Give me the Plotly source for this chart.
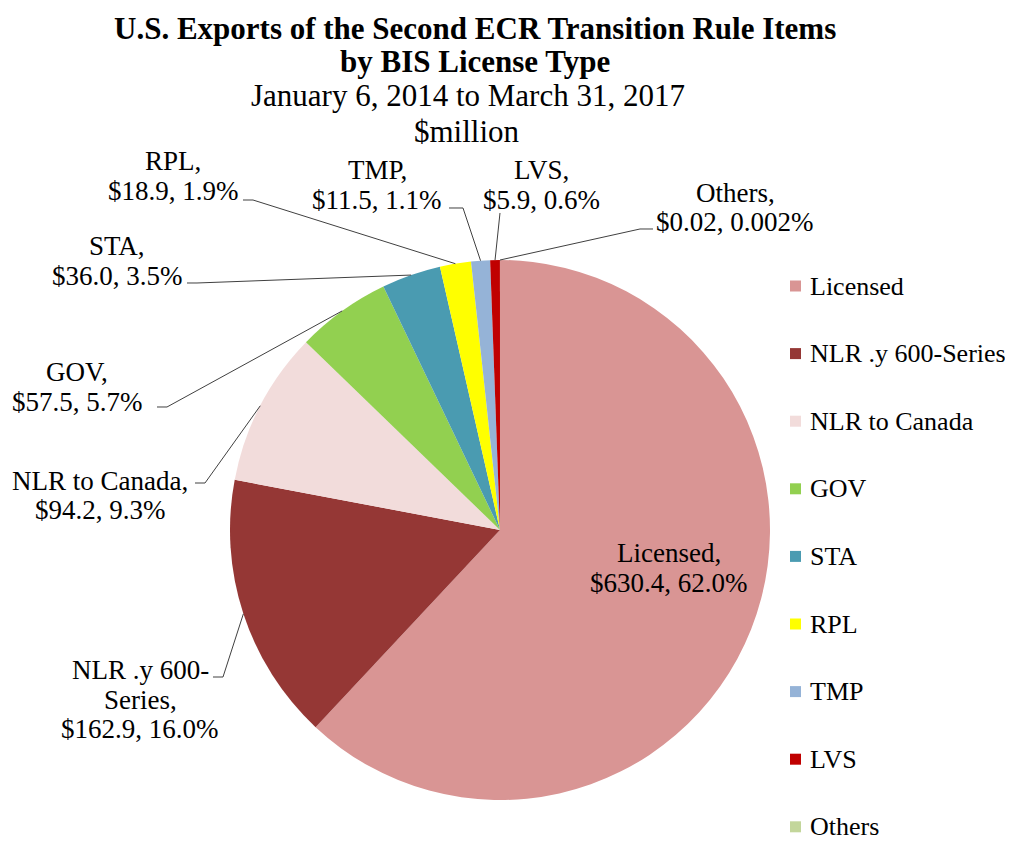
import math
import plotly.graph_objects as go

# ---------------- data ----------------
categories = ["Licensed", "NLR .y 600-Series", "NLR to Canada", "GOV", "STA",
              "RPL", "TMP", "LVS", "Others"]
values = [630.4, 162.9, 94.2, 57.5, 36.0, 18.9, 11.5, 5.9, 0.02]
value_text = ["$630.4", "$162.9", "$94.2", "$57.5", "$36.0", "$18.9", "$11.5", "$5.9", "$0.02"]
pct_text = ["62.0%", "16.0%", "9.3%", "5.7%", "3.5%", "1.9%", "1.1%", "0.6%", "0.002%"]
colors = ["#D99594", "#953735", "#F2DCDB", "#92D050", "#4A9BB1",
          "#FFFF00", "#95B3D7", "#C00000", "#C3D69B"]

OFF = 8  # page body margin
W, H = 1013 - OFF, 846 - OFF
FONT = "Liberation Serif, Times New Roman, serif"

# pie geometry (pixels in window coordinates)
CX, CY, R = 500, 530, 270


def px(x):
    return (x - OFF) / W


def py(y):
    return 1 - (y - OFF) / H


fig = go.Figure()
fig.add_trace(go.Pie(
    labels=categories, values=values, sort=False, direction="clockwise",
    rotation=0, marker=dict(colors=colors, line=dict(width=0)),
    textinfo="none", hoverinfo="label+value+percent", showlegend=False,
    domain=dict(x=[px(CX - R), px(CX + R)], y=[py(CY + R), py(CY - R)]),
))

annotations = []
shapes = []


def add_lines(lines, cx, ys, size=27, bold=False):
    for t, y in zip(lines, ys):
        annotations.append(dict(
            x=px(cx), y=py(y), xref="paper", yref="paper",
            text=f"<b>{t}</b>" if bold else t,
            showarrow=False, xanchor="center", yanchor="middle",
            font=dict(family=FONT, size=size, color="black")))


# title lines
add_lines(["U.S. Exports of the Second ECR Transition Rule Items"], 475, [28], size=31, bold=True)
add_lines(["by BIS License Type"], 475, [61], size=31, bold=True)
add_lines(["January 6, 2014 to March 31, 2017"], 468, [96], size=31)
add_lines(["$million"], 467, [131], size=31)

# slice mid-angles (clockwise from 12 o'clock)
total = sum(values)
mids = []
cum = 0
for v in values:
    mids.append((cum + v / 2) / total * 2 * math.pi)
    cum += v


def edge(i):
    a = mids[i]
    return CX + R * math.sin(a), CY - R * math.cos(a)


# label layouts: (text lines, center x, line ys, leader end, leader knee)
label_layout = {
    "Licensed": (["Licensed,", "{v}, {p}"], 669, [553, 583], None, None),
    "NLR .y 600-Series": (["NLR .y 600-", "Series,", "{v}, {p}"], 140, [670, 700, 729], (213, 677), (223, 677)),
    "NLR to Canada": (["NLR to Canada,", "{v}, {p}"], 100, [481, 510], (195, 483), (205, 483)),
    "GOV": (["GOV,", "{v}, {p}"], 77, [372, 402], (157, 407), (167, 407)),
    "STA": (["STA,", "{v}, {p}"], 117, [246, 276], (187, 283), (197, 283)),
    "RPL": (["RPL,", "{v}, {p}"], 173, [161, 191], (243, 200), (253, 200)),
    "TMP": (["TMP,", "{v}, {p}"], 377, [170, 200], (449, 208), (463, 208)),
    "LVS": (["LVS,", "{v}, {p}"], 541, [170, 200], (500, 213), None),
    "Others": (["Others,", "{v}, {p}"], 735, [193, 222], (653, 229), (640, 229)),
}

for i, cat in enumerate(categories):
    lines, cx, ys, end, knee = label_layout[cat]
    lines = [l.format(v=value_text[i], p=pct_text[i]) for l in lines]
    add_lines(lines, cx, ys)
    if end is not None:
        ex, ey = edge(i)
        pts = [end] + ([knee] if knee else []) + [(ex, ey)]
        path = "M " + " L ".join(f"{px(x):.5f},{py(y):.5f}" for x, y in pts)
        shapes.append(dict(type="path", path=path, xref="paper", yref="paper",
                           line=dict(color="#404040", width=1)))

# manual legend
leg_y0, leg_dy = 286, 67.6
for i, cat in enumerate(categories):
    y = leg_y0 + i * leg_dy
    shapes.append(dict(type="rect", xref="paper", yref="paper",
                       x0=px(790), x1=px(801), y0=py(y + 5.5), y1=py(y - 5.5),
                       fillcolor=colors[i], line=dict(width=0)))
    annotations.append(dict(x=px(808), y=py(y), xref="paper", yref="paper",
                            text=cat, showarrow=False, xanchor="left", yanchor="middle",
                            font=dict(family=FONT, size=26, color="black")))

fig.update_layout(
    width=W, height=H, margin=dict(l=0, r=0, t=0, b=0),
    paper_bgcolor="white", plot_bgcolor="white",
    annotations=annotations, shapes=shapes, showlegend=False,
)

fig.write_html("out.html")
